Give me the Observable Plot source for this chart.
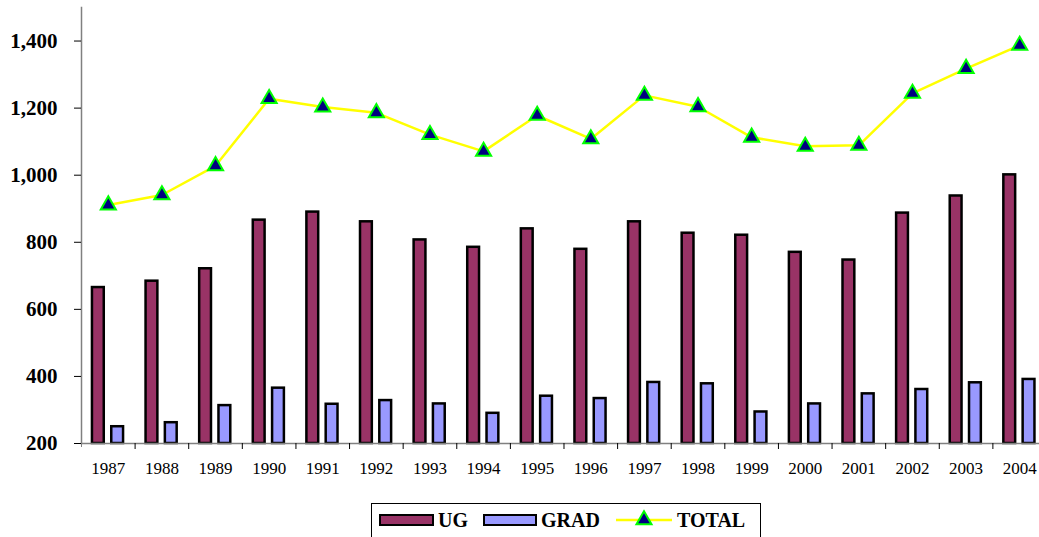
<!DOCTYPE html>
<html>
<head>
<meta charset="utf-8">
<script src="https://cdn.jsdelivr.net/npm/d3@7"></script>
<script src="https://cdn.jsdelivr.net/npm/@observablehq/plot@0.6"></script>
<style>
  html, body { margin: 0; padding: 0; background: #fff; overflow: hidden; }
  body { width: 1039px; height: 537px; position: relative; font-family: "Liberation Serif", "Times New Roman", serif; }
  #chart { position: absolute; left: 0; top: 0; width: 1046px; }
  #chart svg { max-width: none !important; }
  #chart svg text { font-family: "Liberation Serif", "Times New Roman", serif !important; }
  #legend {
    position: absolute; left: 371px; top: 503px; width: 390px; height: 40px;
    border: 1px solid #000; box-sizing: border-box; background: #fff;
  }
  .lg { position: absolute; top: 0; font-family: "Liberation Serif", "Times New Roman", serif; font-weight: bold; font-size: 20px; line-height: 20px; }
  .sw { position: absolute; top: 10px; height: 12px; box-sizing: border-box; border: 2px solid #000; }
</style>
</head>
<body>
<div id="chart"></div>
<div id="legend"></div>
<script>
const years = ["1987","1988","1989","1990","1991","1992","1993","1994","1995","1996","1997","1998","1999","2000","2001","2002","2003","2004"];
const ug = [665,684,721,866,890,861,807,785,840,779,861,827,821,770,747,887,938,1001];
const grad = [250,262,313,365,317,328,318,290,341,334,382,378,294,318,348,361,381,391];
const total = [911,941,1028,1228,1203,1186,1121,1071,1178,1108,1238,1204,1113,1086,1089,1244,1318,1387];
const yTicks = [200,400,600,800,1000,1200,1400];

const seriesNames = ["UG","GRAD","TOTAL"];
const colors = {UG: "#993366", GRAD: "#9999FF", TOTAL: "#FFFF00"};

const rows = years.map((yr, i) => ({year: yr, ug: ug[i], grad: grad[i], total: total[i]}));

const fmt = d3.format(",");

const chart = Plot.plot({
  width: 1046,
  height: 490,
  marginLeft: 81,
  marginRight: 0,
  marginTop: 7,
  marginBottom: 47,
  style: {background: "#fff", overflow: "visible", maxWidth: "none"},
  x: {type: "band", domain: years, padding: 0, round: false, axis: null},
  y: {domain: [200, 1500], axis: null},
  marks: [
    Plot.barY(rows, {x: "year", y1: 200, y2: "ug", fill: colors.UG, stroke: "#000", strokeWidth: 2.5, insetLeft: 10.95, insetRight: 30.85}),
    Plot.barY(rows, {x: "year", y1: 200, y2: "grad", fill: colors.GRAD, stroke: "#000", strokeWidth: 2.5, insetLeft: 30.25, insetRight: 11.55}),
    Plot.frame({anchor: "left", stroke: "#808080", strokeWidth: 1.5}),
    Plot.frame({anchor: "bottom", stroke: "#808080", strokeWidth: 1.5}),
    Plot.axisY({ticks: yTicks, tickSize: 7, tickPadding: 17, tickFormat: fmt, fontSize: 21, fontWeight: "bold", label: null, stroke: "#000", fill: "#000"}),
    Plot.axisX({tickSize: 0, tickPadding: 18, fontSize: 17, label: null, fill: "#000"}),
    Plot.axisX({tickSize: 6, tickFormat: () => "", label: null, dx: 26.8, stroke: "#000"}),
    Plot.axisX({ticks: [years[0]], tickSize: 4, tickFormat: () => "", label: null, dx: -26.8, stroke: "#808080"}),
    Plot.line(rows, {x: "year", y: "total", stroke: colors.TOTAL, strokeWidth: 2.5}),
    Plot.dot(rows, {x: "year", y: "total", symbol: "triangle", r: 5.6, fill: "#000080", stroke: "#00FF00", strokeWidth: 2})
  ]
});
chart.querySelectorAll('g[aria-label="y-axis tick label"] text').forEach(t => { t.style.fontWeight = "bold"; });
document.getElementById("chart").appendChild(chart);

// Legend
const legend = document.getElementById("legend");
function addSwatch(left, width, color) {
  const d = document.createElement("div");
  d.className = "sw";
  d.style.left = left + "px"; d.style.width = width + "px"; d.style.background = color;
  legend.appendChild(d);
}
function addLabel(left, text) {
  const d = document.createElement("div");
  d.className = "lg";
  d.style.left = left + "px"; d.style.top = "6px";
  d.textContent = text;
  legend.appendChild(d);
}
addSwatch(7, 55, colors[seriesNames[0]]);
addLabel(66, seriesNames[0]);
addSwatch(111, 54, colors[seriesNames[1]]);
addLabel(169, seriesNames[1]);
const ns = "http://www.w3.org/2000/svg";
const sv = document.createElementNS(ns, "svg");
sv.setAttribute("width", 60); sv.setAttribute("height", 30);
sv.style.position = "absolute"; sv.style.left = "243px"; sv.style.top = "2px";
const ln = document.createElementNS(ns, "line");
ln.setAttribute("x1", 1); ln.setAttribute("x2", 57); ln.setAttribute("y1", 14); ln.setAttribute("y2", 14);
ln.setAttribute("stroke", colors.TOTAL); ln.setAttribute("stroke-width", 2.5);
sv.appendChild(ln);
const tri = document.createElementNS(ns, "path");
tri.setAttribute("d", d3.symbol(d3.symbolTriangle, 5.6 * 5.6 * Math.PI)());
tri.setAttribute("transform", "translate(29,14)");
tri.setAttribute("fill", "#000080"); tri.setAttribute("stroke", "#00FF00"); tri.setAttribute("stroke-width", 2);
sv.appendChild(tri);
legend.appendChild(sv);
addLabel(305, seriesNames[2]);
</script>
</body>
</html>
